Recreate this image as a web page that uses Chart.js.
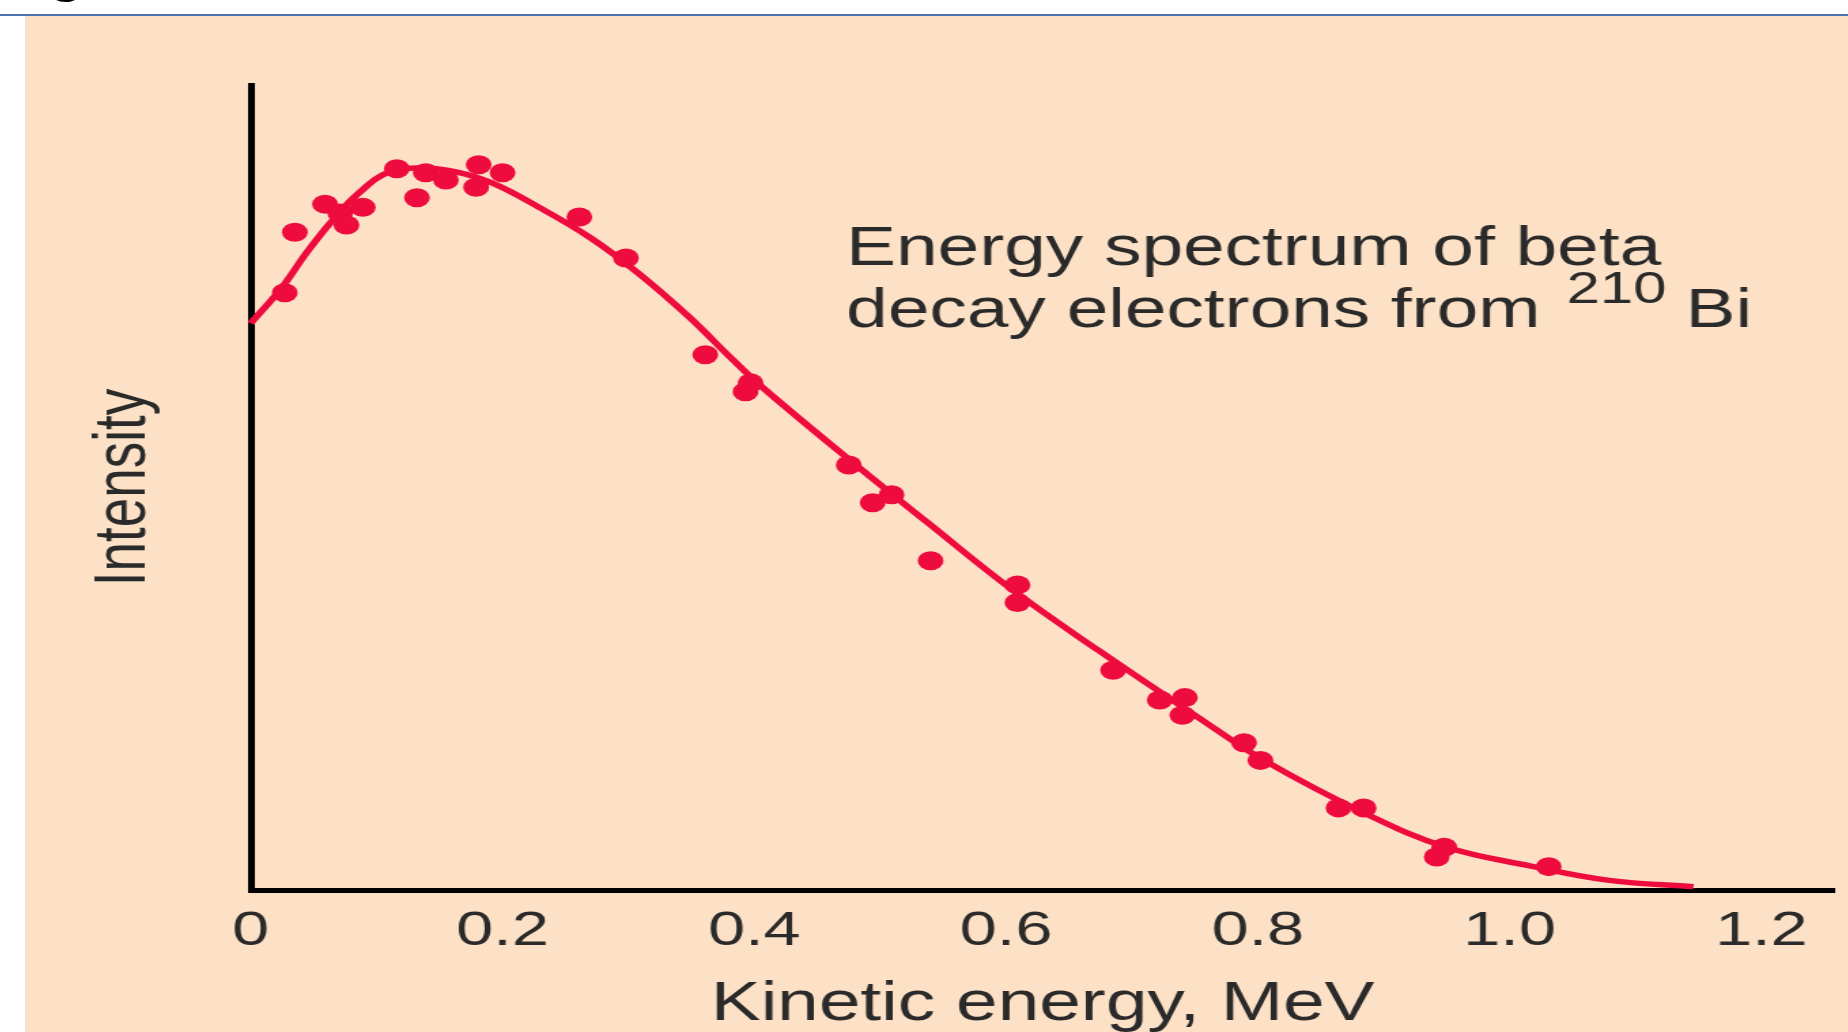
<!DOCTYPE html>
<html>
<head>
<meta charset="utf-8">
<title>Energy spectrum of beta decay electrons from 210Bi</title>
<script src="https://cdn.jsdelivr.net/npm/chart.js@4.4.1/dist/chart.umd.min.js"></script>
<style>
  html, body { margin: 0; padding: 0; background: #fff; width: 1848px; height: 1032px; overflow: hidden; position: relative; }
  #rule { position: absolute; left: 0; top: 14px; width: 1848px; height: 2px; background: #4a74ad; }
  #slide-title { position: absolute; left: 48px; top: -60px; font: bold 60px "Liberation Sans", Arial, sans-serif; line-height: 60px; color: #000; }
  #panel { position: absolute; left: 25px; top: 16px; right: 0; bottom: 0; background: #fde1c6; overflow: hidden; }
  /* the source figure is stretched sideways, so draw narrow and widen */
  #stretch { position: absolute; left: 0; top: 0; width: 1340px; height: 1016px; transform: scaleX(1.36); transform-origin: 0 0; }
</style>
</head>
<body>
<div id="slide-title">g</div>
<div id="rule"></div>
<div id="panel">
  <div id="stretch"><canvas id="spectrum"></canvas></div>
</div>
<script>
// measured electrons (MeV, arbitrary intensity)
const pointEnergy = [0.027, 0.035, 0.059, 0.071, 0.076, 0.089, 0.116, 0.132, 0.139, 0.155, 0.179, 0.181, 0.200,
  0.261, 0.298, 0.361, 0.393, 0.397, 0.475, 0.494, 0.509, 0.540, 0.609, 0.609, 0.685, 0.722, 0.740, 0.742,
  0.789, 0.802, 0.864, 0.884, 0.942, 0.948, 1.031];
const pointIntensity = [74.2, 81.7, 85.2, 84.1, 82.6, 84.8, 89.6, 86.0, 89.1, 88.2, 87.3, 90.1, 89.1,
  83.6, 78.5, 66.5, 61.9, 63.0, 52.8, 48.1, 49.1, 40.9, 37.9, 35.7, 27.3, 23.6, 21.7, 23.9,
  18.3, 16.1, 10.2, 10.2, 4.1, 5.3, 2.9];

// smooth curve through them
const curveEnergy = [0, 0.025, 0.044, 0.065, 0.086, 0.110, 0.136, 0.163, 0.192, 0.229, 0.269, 0.308, 0.348,
  0.382, 0.406, 0.472, 0.538, 0.604, 0.673, 0.752, 0.805, 0.884, 0.950, 1.016, 1.079, 1.146];
const curveIntensity = [70.4, 74.9, 79.1, 83.2, 86.6, 89.2, 89.7, 89.2, 87.8, 84.8, 81.1, 76.6, 71.2,
  66.0, 62.5, 53.9, 45.6, 37.4, 29.8, 21.5, 16.1, 9.6, 5.3, 3.0, 1.2, 0.4];

const tickValues = [0, 0.2, 0.4, 0.6, 0.8, 1.0, 1.2];
const tickLabels = ['0', '0.2', '0.4', '0.6', '0.8', '1.0', '1.2'];
const noteLines = ['Energy spectrum of beta', 'decay electrons from'];
const noteIsotope = ['210', 'Bi'];

(function () {
  const red = '#ee0b3d';
  const ink = '#2a2a2a';
  const font = '"Liberation Sans", Arial, Helvetica, sans-serif';

  const toXY = (xs, ys) => xs.map((x, i) => ({ x: x, y: ys[i] }));

  // caption in the upper right, anchored in data units
  const noteLabel = {
    id: 'noteLabel',
    afterDraw(chart) {
      const { ctx, scales } = chart;
      const x0 = scales.x.getPixelForValue(0.473);
      const y1 = scales.y.getPixelForValue(77.6);
      const gap = 62;
      ctx.save();
      ctx.fillStyle = ink;
      ctx.textBaseline = 'alphabetic';
      ctx.font = '55px ' + font;
      ctx.fillText(noteLines[0], x0, y1);
      ctx.fillText(noteLines[1], x0, y1 + gap);
      let x = x0 + ctx.measureText(noteLines[1] + ' ').width + 4;
      ctx.font = '44px ' + font;
      ctx.fillText(noteIsotope[0], x, y1 + gap - 24);
      x += ctx.measureText(noteIsotope[0]).width + 14;
      ctx.font = '55px ' + font;
      ctx.fillText(noteIsotope[1], x, y1 + gap);
      ctx.restore();
    }
  };

  new Chart(document.getElementById('spectrum'), {
    type: 'scatter',
    data: {
      datasets: [{
        label: 'Fit',
        type: 'line',
        data: toXY(curveEnergy, curveIntensity),
        borderColor: red,
        borderWidth: 5.5,
        pointRadius: 0,
        tension: 0.4,
        fill: false,
        clip: false,
      }, {
        label: 'Measured',
        data: toXY(pointEnergy, pointIntensity),
        backgroundColor: red,
        borderWidth: 0,
        pointRadius: 9.5,
        clip: false,
      }]
    },
    options: {
      responsive: true,
      maintainAspectRatio: false,
      animation: false,
      events: [],
      layout: { padding: { left: 0, right: 6, top: 69, bottom: 0 } },
      plugins: {
        legend: { display: false },
        tooltip: { enabled: false },
      },
      scales: {
        x: {
          type: 'linear',
          min: 0,
          max: 1.258,
          afterBuildTicks: (axis) => { axis.ticks = tickValues.map(v => ({ value: v })); },
          afterFit: (axis) => { axis.height = 142; },
          grid: { display: false },
          border: { display: true, color: '#000', width: 5 },
          ticks: {
            padding: 4,
            color: ink,
            font: { family: font, size: 49 },
            callback: (v, i) => tickLabels[i],
          },
          title: {
            display: true,
            text: 'Kinetic energy, MeV',
            color: ink,
            font: { family: font, size: 55, lineHeight: 1 },
            padding: 0,
          },
        },
        y: {
          min: 0,
          max: 100,
          afterFit: (axis) => { axis.width = 166; },
          grid: { display: false },
          border: { display: true, color: '#000', width: 5 },
          ticks: { display: false },
          title: {
            display: true,
            text: 'Intensity',
            color: ink,
            font: { family: font, size: 53, lineHeight: 1 },
            padding: { top: 47, bottom: 0 },
          },
        }
      }
    },
    plugins: [noteLabel]
  });
})();
</script>
</body>
</html>
